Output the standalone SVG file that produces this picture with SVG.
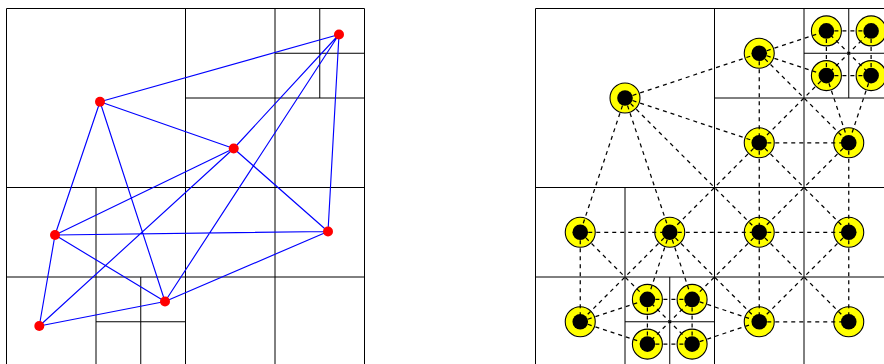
<svg xmlns="http://www.w3.org/2000/svg" width="884" height="364" viewBox="0 0 884 364">
<style>
.g{stroke:#000;stroke-width:1;fill:none}
.b{stroke:#00f;stroke-width:1.15;fill:none}
.d{stroke:#000;stroke-width:1.25;stroke-dasharray:4 4;fill:none}
.o{stroke-dashoffset:2.4}
.r{fill:#f00}
.y{fill:#ff0;stroke:#000;stroke-width:1.1}
.k{fill:#000}
</style>
<defs>
<path id="grid" d="M6.5 8.5H364.5V366.5H6.5ZM185.5 8.5V366.5M6.5 187.5H364.5M185.5 98H364.5M275 8.5V366.5M6.5 277H364.5M96 187.5V366.5M319.75 8.5V98M275 53.25H364.5M96 321.75H185.5M140.75 277V366.5"/>
</defs>
<rect width="884" height="364" fill="#fff"/>
<use href="#grid" class="g"/>
<use href="#grid" class="g" x="529"/>
<g id="connectors-left" class="b">
<path d="M339 34.5L100 101.7M100 101.7L233.7 148.5M100 101.7L55 235M100 101.7L165 301.5M233.7 148.5L339 34.5M233.7 148.5L55 235M233.7 148.5L39.3 326M233.7 148.5L328 231.5M339 34.5L165 301.5M339 34.5L328 231.5M55 235L328 231.5M55 235L165 301.5M55 235L39.3 326M39.3 326L165 301.5M165 301.5L328 231.5"/>
</g>
<g id="L1"><circle class="r" cx="339" cy="34.5" r="5"/></g>
<g id="L2"><circle class="r" cx="100" cy="101.7" r="5"/></g>
<g id="L3"><circle class="r" cx="233.7" cy="148.5" r="5"/></g>
<g id="L4"><circle class="r" cx="328" cy="231.5" r="5"/></g>
<g id="L5"><circle class="r" cx="55" cy="235" r="5"/></g>
<g id="L6"><circle class="r" cx="165" cy="301.5" r="5"/></g>
<g id="L7"><circle class="r" cx="39.3" cy="326" r="5"/></g>
<g id="R-N"><circle class="y" cx="625" cy="98" r="15"/></g>
<g id="R-A"><circle class="y" cx="759.25" cy="53.25" r="15"/></g>
<g id="R-B"><circle class="y" cx="759.25" cy="142.75" r="15"/></g>
<g id="R-C"><circle class="y" cx="848.75" cy="142.75" r="15"/></g>
<g id="R-D"><circle class="y" cx="826.4" cy="30.9" r="15"/></g>
<g id="R-E"><circle class="y" cx="871.1" cy="30.9" r="15"/></g>
<g id="R-F"><circle class="y" cx="826.4" cy="75.6" r="15"/></g>
<g id="R-G"><circle class="y" cx="871.1" cy="75.6" r="15"/></g>
<g id="R-P"><circle class="y" cx="580.25" cy="232.25" r="15"/></g>
<g id="R-Q"><circle class="y" cx="669.75" cy="232.25" r="15"/></g>
<g id="R-R"><circle class="y" cx="759.25" cy="232.25" r="15"/></g>
<g id="R-S"><circle class="y" cx="848.75" cy="232.25" r="15"/></g>
<g id="R-T"><circle class="y" cx="580.25" cy="321.75" r="15"/></g>
<g id="R-U"><circle class="y" cx="759.25" cy="321.75" r="15"/></g>
<g id="R-V"><circle class="y" cx="848.75" cy="321.75" r="15"/></g>
<g id="R-W"><circle class="y" cx="647.4" cy="299.4" r="15"/></g>
<g id="R-X"><circle class="y" cx="692.1" cy="299.4" r="15"/></g>
<g id="R-Y"><circle class="y" cx="647.4" cy="344.1" r="15"/></g>
<g id="R-Z"><circle class="y" cx="692.1" cy="344.1" r="15"/></g>
<g id="connectors-right" class="d">
<path d="M625 98L759.25 53.25M625 98L759.25 142.75M625 98L759.25 232.25M625 98L669.75 232.25M625 98L580.25 232.25"/>
<path d="M759.25 53.25L826.4 30.9M759.25 53.25L826.4 75.6M759.25 53.25L759.25 142.75M759.25 53.25L848.75 142.75"/>
<path d="M826.4 30.9L871.1 30.9M826.4 30.9L826.4 75.6M871.1 30.9L871.1 75.6M826.4 75.6L871.1 75.6"/>
<path class="o" d="M826.4 30.9L871.1 75.6M871.1 30.9L826.4 75.6M647.4 299.4L692.1 344.1M692.1 299.4L647.4 344.1"/>
<path d="M826.4 75.6L759.25 142.75M826.4 75.6L848.75 142.75M871.1 75.6L848.75 142.75"/>
<path d="M759.25 142.75L848.75 142.75M759.25 142.75L759.25 232.25M759.25 142.75L669.75 232.25M759.25 142.75L848.75 232.25M848.75 142.75L759.25 232.25M848.75 142.75L848.75 232.25"/>
<path d="M580.25 232.25L669.75 232.25M669.75 232.25L759.25 232.25M759.25 232.25L848.75 232.25M580.25 232.25L580.25 321.75M580.25 232.25L647.4 299.4"/>
<path d="M669.75 232.25L580.25 321.75M669.75 232.25L647.4 299.4M669.75 232.25L692.1 299.4M669.75 232.25L759.25 321.75"/>
<path d="M759.25 232.25L692.1 299.4M759.25 232.25L759.25 321.75M759.25 232.25L848.75 321.75M848.75 232.25L759.25 321.75M848.75 232.25L848.75 321.75M759.25 321.75L848.75 321.75"/>
<path d="M580.25 321.75L647.4 299.4M580.25 321.75L647.4 344.1M647.4 299.4L692.1 299.4M647.4 299.4L647.4 344.1M692.1 299.4L692.1 344.1M647.4 344.1L692.1 344.1M692.1 299.4L759.25 321.75M692.1 344.1L759.25 321.75"/>
</g>
<g id="hubs" class="k">
<circle cx="625" cy="98" r="7.8"/><circle cx="759.25" cy="53.25" r="7.8"/><circle cx="759.25" cy="142.75" r="7.8"/><circle cx="848.75" cy="142.75" r="7.8"/>
<circle cx="826.4" cy="30.9" r="7.8"/><circle cx="871.1" cy="30.9" r="7.8"/><circle cx="826.4" cy="75.6" r="7.8"/><circle cx="871.1" cy="75.6" r="7.8"/>
<circle cx="580.25" cy="232.25" r="7.8"/><circle cx="669.75" cy="232.25" r="7.8"/><circle cx="759.25" cy="232.25" r="7.8"/><circle cx="848.75" cy="232.25" r="7.8"/>
<circle cx="580.25" cy="321.75" r="7.8"/><circle cx="759.25" cy="321.75" r="7.8"/><circle cx="848.75" cy="321.75" r="7.8"/>
<circle cx="647.4" cy="299.4" r="7.8"/><circle cx="692.1" cy="299.4" r="7.8"/><circle cx="647.4" cy="344.1" r="7.8"/><circle cx="692.1" cy="344.1" r="7.8"/>
</g>
</svg>
